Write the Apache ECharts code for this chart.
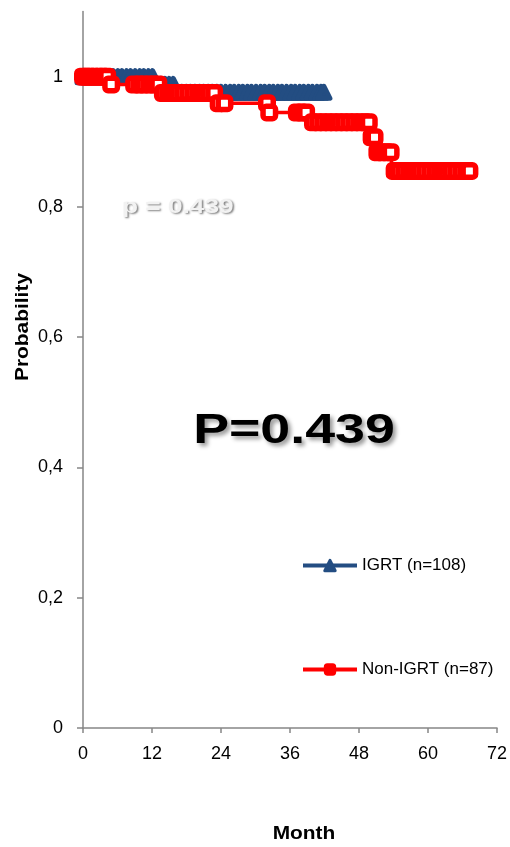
<!DOCTYPE html>
<html>
<head>
<meta charset="utf-8">
<title>Kaplan-Meier: IGRT vs Non-IGRT</title>
<script src="https://cdn.jsdelivr.net/npm/echarts@6/dist/echarts.min.js"></script>
<style>
  html, body { margin: 0; padding: 0; background: #fff; }
  #chart { width: 510px; height: 847px; }
</style>
</head>
<body>
<div id="chart"></div>
<script>
// Axis ticks
const monthTicks = [0, 12, 24, 36, 48, 60, 72];
const probTicks = [0, 0.2, 0.4, 0.6, 0.8, 1];
const probLabels = ['0', '0,2', '0,4', '0,6', '0,8', '1'];

// Series names
const seriesNames = ['IGRT (n=108)', 'Non-IGRT (n=87)'];

// IGRT: survival steps (time of drop, survival after it), follow-up end, censored times
const igrtStepTimes = [0, 12.5, 16.1];
const igrtStepValues = [1, 0.988, 0.976];
const igrtEnd = 42.0;
const igrtCensored = [
  0, 0.8, 1.5, 2.3, 3.0, 3.8, 4.6, 5.3, 6.1, 6.8, 7.6, 8.3, 9.1, 9.9, 10.6, 11.4, 12.1,
  12.9, 13.6, 14.3, 15.0, 15.7,
  16.5, 17.2, 18.0, 18.7, 19.5, 20.3, 21.0, 21.8, 22.5, 23.3, 24.0, 24.8, 25.6, 26.3,
  27.1, 27.8, 28.6, 29.3, 30.1, 30.9, 31.6, 32.4, 33.1, 33.9, 34.6, 35.4, 36.2, 36.9,
  37.7, 38.4, 39.2, 39.9, 40.7, 41.4, 41.9
];

// Non-IGRT: survival steps, follow-up end, censored times
const nonStepTimes = [0, 4.6, 13.4, 23.2, 32.2, 39.3, 49.9, 50.9, 53.8];
const nonStepValues = [1, 0.988, 0.975, 0.959, 0.945, 0.930, 0.907, 0.884, 0.855];
const nonEnd = 67.3;
const nonCensored = [
  0, 0.6, 1.3, 2.0, 2.8, 3.5, 4.2,
  4.9, 8.9, 9.8, 10.6, 11.5, 12.3, 13.1,
  13.9, 14.8, 15.6, 16.5, 17.4, 18.3, 19.2, 20.1, 21.0, 21.9, 22.8,
  23.6, 24.6,
  32.0, 32.4,
  37.2, 38.0, 38.8,
  40.0, 40.9, 41.8, 42.7, 43.6, 44.5, 45.4, 46.3, 47.2, 48.1, 49.0, 49.7,
  50.2, 50.7,
  51.2, 52.0, 52.8, 53.5,
  54.2, 55.0, 55.9, 56.8, 57.7, 58.6, 59.5, 60.4, 61.3, 62.2, 63.1, 64.0, 64.9, 65.8, 66.7, 67.2
];

// Survival value in force at time t
function survivalAt(times, values, t) {
  let s = values[0];
  for (let i = 0; i < times.length; i++) {
    if (times[i] <= t) s = values[i];
  }
  return s;
}

// Step points carry no marker; censored points carry the series marker
function buildCurve(times, values, end, censored) {
  const pts = [];
  times.forEach((t, i) => pts.push({ t, v: values[i], mark: false }));
  pts.push({ t: end, v: values[values.length - 1], mark: false });
  censored.forEach(t => pts.push({ t, v: survivalAt(times, values, t), mark: true }));
  pts.sort((a, b) => a.t - b.t || (a.mark - b.mark));
  return pts.map(p => p.mark ? { value: [p.t, p.v] } : { value: [p.t, p.v], symbol: 'none' });
}

const BLUE = '#234D82';
const RED = '#FF0000';
const FONT = '"Liberation Sans", Arial, Helvetica, sans-serif';

const chart = echarts.init(document.getElementById('chart'), null, { renderer: 'canvas' });

chart.setOption({
  animation: false,
  backgroundColor: '#ffffff',
  grid: { left: 83, right: 12, top: 11.5, bottom: 119, containLabel: false },
  xAxis: {
    type: 'value',
    min: 0, max: 72, interval: 12,
    axisLine: { show: true, lineStyle: { color: '#868686', width: 1.5 } },
    axisTick: { show: true, length: 5, inside: false, lineStyle: { color: '#868686', width: 1.5 },
      customValues: monthTicks },
    axisLabel: { color: '#000', fontSize: 18, fontFamily: FONT, margin: 17, customValues: monthTicks },
    splitLine: { show: false }
  },
  yAxis: {
    type: 'value',
    min: 0, max: 1.1,
    axisLine: { show: true, lineStyle: { color: '#868686', width: 1.5 } },
    axisTick: { show: true, length: 6, inside: false, lineStyle: { color: '#868686', width: 1.5 },
      customValues: probTicks },
    axisLabel: {
      color: '#000', fontSize: 18, fontFamily: FONT, margin: 20,
      customValues: probTicks,
      formatter: v => {
        const i = probTicks.findIndex(p => Math.abs(p - v) < 1e-9);
        return i >= 0 ? probLabels[i] : '';
      }
    },
    splitLine: { show: false }
  },
  legend: {
    orient: 'vertical',
    left: 296,
    top: 552,
    itemWidth: 54,
    itemHeight: 13,
    itemGap: 87,
    lineStyle: { width: 4 },
    textStyle: { color: '#000', fontSize: 17, fontFamily: FONT },
    data: [
      { name: seriesNames[0], itemStyle: { color: BLUE, borderColor: BLUE, borderWidth: 3, borderJoin: 'round' } },
      { name: seriesNames[1], itemStyle: { color: RED, borderColor: RED, borderWidth: 2, borderJoin: 'round' } }
    ]
  },
  series: [
    {
      name: seriesNames[0],
      type: 'line',
      step: 'end',
      data: buildCurve(igrtStepTimes, igrtStepValues, igrtEnd, igrtCensored),
      showAllSymbol: true,
      symbol: 'triangle',
      symbolSize: 12,
      lineStyle: { color: BLUE, width: 4 },
      itemStyle: { color: BLUE, borderColor: BLUE, borderWidth: 5, borderJoin: 'round' },
      z: 2
    },
    {
      name: seriesNames[1],
      type: 'line',
      step: 'end',
      data: buildCurve(nonStepTimes, nonStepValues, nonEnd, nonCensored),
      showAllSymbol: true,
      symbol: 'roundRect',
      symbolSize: 12.5,
      lineStyle: { color: RED, width: 3.5 },
      itemStyle: { color: '#ffffff', borderColor: RED, borderWidth: 5.5, borderJoin: 'round' },
      z: 3
    }
  ],
  graphic: [
    {
      type: 'text', x: 122, y: 207,
      scaleX: 1.25,
      style: {
        text: 'p = 0.439', fill: '#f2f2f2',
        font: 'bold 21px ' + FONT, textVerticalAlign: 'middle', textAlign: 'left',
        textShadowColor: 'rgba(0,0,0,0.5)', textShadowBlur: 2,
        textShadowOffsetX: 1.5, textShadowOffsetY: 1.5
      },
      z: 10
    },
    {
      type: 'text', x: 294, y: 431,
      scaleX: 1.25,
      style: {
        text: 'P=0.439', fill: '#000000',
        font: 'bold 43px ' + FONT, textVerticalAlign: 'middle', textAlign: 'center',
        textShadowColor: 'rgba(0,0,0,0.4)', textShadowBlur: 4,
        textShadowOffsetX: 3, textShadowOffsetY: 3
      },
      z: 10
    },
    {
      type: 'text', x: 23, y: 327, rotation: Math.PI / 2,
      scaleX: 1.1,
      style: {
        text: 'Probability', fill: '#000',
        font: 'bold 19px ' + FONT, textVerticalAlign: 'middle', textAlign: 'center'
      },
      z: 10
    },
    {
      type: 'text', x: 304, y: 834,
      scaleX: 1.1,
      style: {
        text: 'Month', fill: '#000',
        font: 'bold 19px ' + FONT, textVerticalAlign: 'middle', textAlign: 'center'
      },
      z: 10
    }
  ]
});
</script>
</body>
</html>
